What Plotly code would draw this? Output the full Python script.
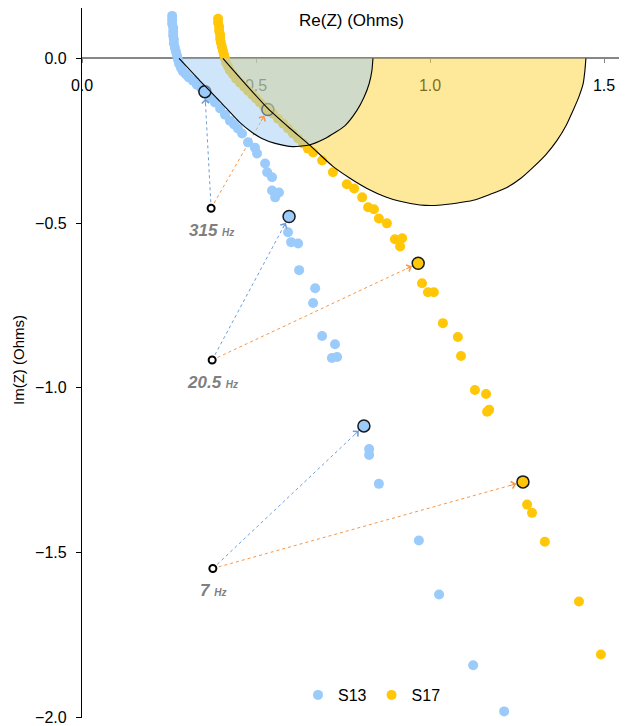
import math
import plotly.graph_objects as go

# ---------------- data ----------------
s13_re = [0.259, 0.259, 0.259, 0.262, 0.262, 0.262, 0.264, 0.264, 0.267, 0.270,
          0.273, 0.276, 0.279, 0.284, 0.290, 0.299, 0.307, 0.319, 0.330, 0.342,
          0.353, 0.368, 0.382, 0.397, 0.411, 0.425, 0.437, 0.448, 0.460, 0.477,
          0.497, 0.503, 0.526, 0.532, 0.546, 0.546, 0.566, 0.555, 0.595, 0.592,
          0.601, 0.621, 0.624, 0.670, 0.664, 0.690, 0.727, 0.718, 0.733, 0.810,
          0.825, 0.825, 0.853, 0.968, 1.026, 1.124, 1.213]
s13_im = [0.129, 0.117, 0.105, 0.093, 0.081, 0.069, 0.057, 0.045, 0.032, 0.020,
          0.008, -0.004, -0.016, -0.028, -0.040, -0.049, -0.058, -0.068, -0.080, -0.089,
          -0.101, -0.119, -0.134, -0.152, -0.171, -0.189, -0.201, -0.213, -0.228, -0.255,
          -0.271, -0.289, -0.319, -0.346, -0.361, -0.401, -0.407, -0.422, -0.480, -0.528,
          -0.558, -0.562, -0.643, -0.698, -0.743, -0.843, -0.868, -0.910, -0.907, -1.116,
          -1.186, -1.204, -1.292, -1.464, -1.628, -1.843, -1.983]

s17_re = [0.391, 0.391, 0.394, 0.394, 0.397, 0.397, 0.399, 0.402, 0.405, 0.408,
          0.411, 0.414, 0.420, 0.425, 0.434, 0.443, 0.454, 0.466, 0.477, 0.489,
          0.500, 0.511, 0.523, 0.534, 0.549, 0.563, 0.578, 0.592, 0.606, 0.621,
          0.635, 0.649, 0.664, 0.690, 0.721, 0.761, 0.782, 0.805, 0.822, 0.839,
          0.853, 0.876, 0.899, 0.920, 0.914, 0.966, 0.977, 0.994, 1.011, 1.037,
          1.080, 1.089, 1.129, 1.161, 1.164, 1.170, 1.267, 1.279, 1.293, 1.330,
          1.428, 1.491]
s17_im = [0.120, 0.108, 0.096, 0.084, 0.072, 0.060, 0.048, 0.035, 0.023, 0.011,
          -0.001, -0.013, -0.025, -0.037, -0.049, -0.062, -0.074, -0.086, -0.098, -0.110,
          -0.122, -0.134, -0.146, -0.155, -0.168, -0.183, -0.198, -0.213, -0.228, -0.243,
          -0.258, -0.274, -0.286, -0.310, -0.346, -0.382, -0.395, -0.422, -0.452, -0.458,
          -0.486, -0.501, -0.549, -0.546, -0.571, -0.622, -0.683, -0.710, -0.710, -0.804,
          -0.846, -0.904, -1.007, -1.019, -1.073, -1.067, -1.286, -1.355, -1.380, -1.468,
          -1.649, -1.810]

# equivalent-circuit fit curves
fit13_re = [0.279, 0.339, 0.397, 0.454, 0.489, 0.517, 0.555, 0.606, 0.655, 0.704,
            0.756, 0.790, 0.810, 0.825, 0.833, 0.836]
fit13_im = [0.000, -0.068, -0.131, -0.195, -0.225, -0.243, -0.258, -0.268, -0.262, -0.240,
            -0.204, -0.158, -0.119, -0.077, -0.037, 0.000]
fit17_re = [0.405, 0.468, 0.534, 0.598, 0.655, 0.721, 0.770, 0.819, 0.871, 0.914,
            0.971, 1.023, 1.075, 1.124, 1.172, 1.221, 1.261, 1.296, 1.333, 1.365,
            1.391, 1.411, 1.428, 1.440, 1.445, 1.448]
fit17_im = [0.000, -0.076, -0.152, -0.213, -0.264, -0.328, -0.364, -0.395, -0.420, -0.434,
            -0.445, -0.446, -0.440, -0.431, -0.413, -0.392, -0.364, -0.331, -0.292, -0.249,
            -0.204, -0.158, -0.116, -0.077, -0.037, 0.000]

# highlighted frequencies
freq_labels = ["315", "20.5", "7"]
freq_unit = "Hz"
s13_hl_re = [0.353, 0.595, 0.810]
s13_hl_im = [-0.101, -0.480, -1.116]
s17_hl_re = [0.534, 0.966, 1.267]
s17_hl_im = [-0.155, -0.622, -1.286]
label_re = [0.371, 0.374, 0.376]
label_im = [-0.455, -0.916, -1.549]

x_ticks = [0.0, 0.5, 1.0, 1.5]
y_ticks = [-2.0, -1.5, -1.0, -0.5, 0.0]

assert len(s13_re) == len(s13_im) and len(s17_re) == len(s17_im)
assert len(fit13_re) == len(fit13_im) and len(fit17_re) == len(fit17_im)

# ---------------- style ----------------
PAGE_OFF = 8                      # default body margin of the html page
W, H = 627 - PAGE_OFF, 726 - PAGE_OFF
ML, MR, MT, MB = 82 - PAGE_OFF, 0, 0, 8
x_range = [0.0, 1.566]
y_range = [-2.003, 0.153]
FONT = "Liberation Sans, Arial, sans-serif"
C13 = "#9ACBFA"
C17 = "#FFC708"
ARROW13 = "#6E9EDC"
ARROW17 = "#F79646"

PW = W - ML - MR
PH = H - MT - MB
px_x = PW / (x_range[1] - x_range[0])
px_y = PH / (y_range[1] - y_range[0])


def paper_x(page_px):
    return (page_px - PAGE_OFF - ML) / PW


def paper_y(page_py):
    return (H - MB - (page_py - PAGE_OFF)) / PH


fig = go.Figure()


def shafts(tx, ty):
    xs, ys = [], []
    for lx, ly, a, b in zip(label_re, label_im, tx, ty):
        xs += [lx, a, None]
        ys += [ly, b, None]
    return xs, ys


for tx, ty, col in [(s13_hl_re, s13_hl_im, ARROW13), (s17_hl_re, s17_hl_im, ARROW17)]:
    xs, ys = shafts(tx, ty)
    fig.add_trace(go.Scatter(x=xs, y=ys, mode="lines", showlegend=False,
                             line=dict(color=col, width=1, dash="dot"),
                             hoverinfo="skip"))

fig.add_trace(go.Scatter(x=s13_re, y=s13_im, mode="markers", name="S13",
                         marker=dict(color=C13, size=10)))
fig.add_trace(go.Scatter(x=s17_re, y=s17_im, mode="markers", name="S17",
                         marker=dict(color=C17, size=10)))
fig.add_trace(go.Scatter(x=s13_hl_re, y=s13_hl_im, mode="markers", showlegend=False,
                         marker=dict(color=C13, size=12, line=dict(color="#1a1a1a", width=1.5))))
fig.add_trace(go.Scatter(x=s17_hl_re, y=s17_hl_im, mode="markers", showlegend=False,
                         marker=dict(color=C17, size=12, line=dict(color="#1a1a1a", width=1.5))))
fig.add_trace(go.Scatter(x=label_re, y=label_im, mode="markers", showlegend=False,
                         marker=dict(color="white", size=7, line=dict(color="black", width=2))))

# fit regions (yellow under, blue over)
fig.add_trace(go.Scatter(x=fit17_re, y=fit17_im, mode="lines", fill="toself",
                         fillcolor="rgba(253,211,55,0.5)", line=dict(width=0),
                         showlegend=False, hoverinfo="skip"))
fig.add_trace(go.Scatter(x=fit13_re, y=fit13_im, mode="lines", fill="toself",
                         fillcolor="rgba(160,205,245,0.5)", line=dict(width=0),
                         showlegend=False, hoverinfo="skip"))
for fx, fy in [(fit17_re, fit17_im), (fit13_re, fit13_im)]:
    fig.add_trace(go.Scatter(x=fx, y=fy, mode="lines", showlegend=False,
                             line=dict(color="black", width=1.1, shape="spline", smoothing=0.6),
                             hoverinfo="skip"))

annotations = []
# arrow heads
for tx, ty, col in [(s13_hl_re, s13_hl_im, ARROW13), (s17_hl_re, s17_hl_im, ARROW17)]:
    for lx, ly, a, b in zip(label_re, label_im, tx, ty):
        dx = (lx - a) * px_x
        dy = -(ly - b) * px_y
        n = math.hypot(dx, dy)
        L = 15.0
        annotations.append(dict(x=a, y=b, xref="x", yref="y", ax=dx / n * L, ay=dy / n * L,
                                showarrow=True, arrowhead=4, arrowsize=1.4, arrowwidth=1,
                                arrowcolor=col, standoff=7, text=""))
# frequency labels
for lx, ly, t in zip(label_re, label_im, freq_labels):
    annotations.append(dict(x=lx, y=ly, xref="x", yref="y", showarrow=False, yshift=-22,
                            text=f"<b><i>{t}</i></b> <b><i><span style='font-size:10px'>{freq_unit}</span></i></b>",
                            font=dict(family=FONT, size=17, color="#7F7F7F")))
# axis titles
annotations.append(dict(x=paper_x(351.5), y=paper_y(21), xref="paper", yref="paper",
                        xanchor="center", yanchor="middle",
                        showarrow=False, text="Re(Z) (Ohms)",
                        font=dict(family=FONT, size=17, color="black")))
annotations.append(dict(x=paper_x(18), y=paper_y(360), xref="paper", yref="paper",
                        xanchor="center", yanchor="middle",
                        showarrow=False, text="Im(Z) (Ohms)", textangle=-90,
                        font=dict(family=FONT, size=15, color="black")))

fig.update_layout(
    width=W, height=H,
    margin=dict(l=ML, r=MR, t=MT, b=MB),
    paper_bgcolor="white", plot_bgcolor="white",
    font=dict(family=FONT, size=16, color="black"),
    showlegend=True,
    legend=dict(orientation="h", x=paper_x(372), xanchor="center",
                y=paper_y(695), yanchor="middle",
                bgcolor="rgba(0,0,0,0)", font=dict(size=16), itemwidth=30),
    annotations=annotations,
    xaxis=dict(range=x_range, tickvals=x_ticks, tickformat=".1f", showgrid=False,
               zeroline=False, showline=True, linecolor="#868686", linewidth=1.5,
               ticks="outside", ticklen=4, tickcolor="#868686", tickwidth=1,
               anchor="free", position=(0 - y_range[0]) / (y_range[1] - y_range[0]),
               side="bottom", ticklabelstandoff=9, layer="below traces",
               tickfont=dict(size=16, color="black")),
    yaxis=dict(range=y_range, tickvals=y_ticks, tickformat=".1f", showgrid=False,
               zeroline=False, showline=True, linecolor="black", linewidth=1.2,
               ticks="outside", ticklen=5, tickcolor="black", ticklabelstandoff=6,
               tickfont=dict(size=16, color="black")),
)

fig.write_html("out.html")
